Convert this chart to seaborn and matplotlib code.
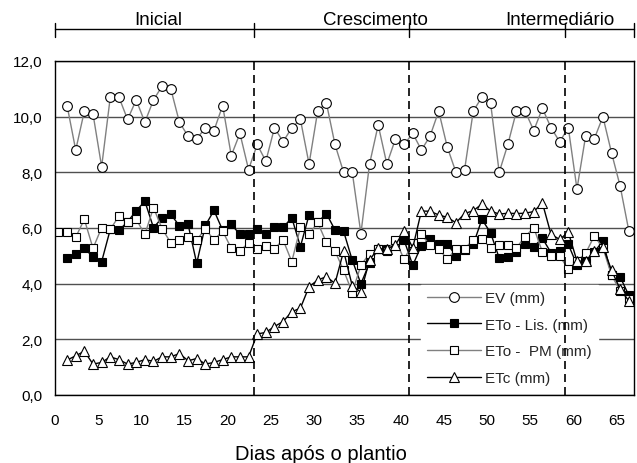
import numpy as np
import matplotlib
matplotlib.use('Agg')
import matplotlib.pyplot as plt
import seaborn as sns

# dias após o plantio (ETo - PM também tem a leitura do dia 0)
days = np.arange(1, 67)
days_pm = np.arange(0, 67)

ev = [10.4, 8.8, 10.2, 10.1, 8.2, 10.7, 10.7, 9.9, 10.6, 9.8,
      10.6, 11.1, 11.0, 9.8, 9.3, 9.2, 9.6, 9.5, 10.4, 8.6,
      9.4, 8.1, 9.0, 8.4, 9.6, 9.1, 9.6, 9.9, 8.3, 10.2,
      10.5, 9.0, 8.0, 8.0, 5.8, 8.3, 9.7, 8.3, 9.2, 9.0,
      9.4, 8.8, 9.3, 10.2, 8.9, 8.0, 8.1, 10.2, 10.7, 10.5,
      8.0, 9.0, 10.2, 10.2, 9.5, 10.3, 9.6, 9.1, 9.6, 7.4,
      9.3, 9.2, 10.0, 8.7, 7.5, 5.9]

eto_lis = [4.93, 5.08, 5.27, 4.96, 4.79, 5.95, 5.92, 6.22, 6.62, 6.96,
           6.01, 6.37, 6.49, 6.08, 6.13, 4.73, 6.09, 6.63, 5.92, 6.13,
           5.77, 5.77, 5.97, 5.77, 6.02, 6.02, 6.37, 5.33, 6.47, 6.20,
           6.52, 5.93, 5.88, 4.84, 4.00, 4.74, 5.25, 5.25, 5.40, 5.56,
           4.66, 5.37, 5.60, 5.42, 5.42, 5.00, 5.20, 5.41, 6.31, 5.83,
           4.92, 4.97, 5.12, 5.44, 5.33, 5.63, 5.11, 5.18, 5.41, 4.67,
           4.78, 5.14, 5.53, 4.31, 4.24, 3.58]

eto_pm = [5.87, 5.87, 5.67, 6.31, 5.27, 6.01, 5.95, 6.43, 6.22, 6.31,
          5.77, 6.73, 5.97, 5.47, 5.57, 5.67, 5.57, 5.97, 5.57, 5.89,
          5.27, 5.17, 5.47, 5.26, 5.36, 5.26, 5.57, 4.79, 6.02, 5.77,
          6.20, 5.48, 5.17, 4.48, 3.68, 4.66, 5.08, 5.23, 5.17, 5.57,
          4.87, 5.46, 5.77, 5.38, 5.26, 4.87, 5.26, 5.26, 5.57, 5.59,
          5.29, 5.38, 5.38, 5.29, 5.69, 6.01, 5.14, 4.99, 4.99, 4.52,
          4.81, 5.09, 5.71, 5.29, 4.30, 3.74, 3.44]

etc = [1.25, 1.41, 1.57, 1.11, 1.17, 1.37, 1.27, 1.11, 1.17, 1.27,
       1.21, 1.37, 1.37, 1.49, 1.23, 1.31, 1.11, 1.17, 1.27, 1.37,
       1.37, 1.37, 2.19, 2.25, 2.46, 2.64, 2.99, 3.12, 3.89, 4.13,
       4.25, 4.01, 5.17, 3.92, 3.70, 4.85, 5.27, 5.23, 5.40, 5.89,
       5.29, 6.61, 6.60, 6.47, 6.38, 6.19, 6.52, 6.62, 6.86, 6.61,
       6.50, 6.53, 6.52, 6.53, 6.59, 6.90, 5.77, 5.59, 5.85, 4.81,
       4.81, 5.17, 5.33, 4.48, 3.80, 3.38]

stage_bounds = [0, 23, 41, 59, 67]
stage_names = ['Inicial', 'Crescimento', 'Intermediário']
stage_label_x = [12, 37.1, 58.4]

xtick_vals = list(range(0, 70, 5))
ytick_vals = [0, 2, 4, 6, 8, 10, 12]
ytick_labels = ['0,0', '2,0', '4,0', '6,0', '8,0', '10,0', '12,0']

# os pontos ficam um pouco deslocados em relação às marcas do eixo no original
x_shift = 0.4

sns.set_theme(style='white')
plt.rcParams['font.family'] = ['Liberation Sans', 'DejaVu Sans']

fig = plt.figure(figsize=(6.37, 4.64), dpi=100)
ax = fig.add_subplot(111)
fig.subplots_adjust(left=0.0863, right=0.9953, bottom=0.1466, top=0.8664)

mk = dict(markeredgecolor='black', markeredgewidth=0.8)
sns.lineplot(x=days + x_shift, y=ev, ax=ax, color='#808080', lw=1,
             marker='o', markersize=7, markerfacecolor='white',
             label='EV (mm)', **mk)
sns.lineplot(x=days + x_shift, y=eto_lis, ax=ax, color='black', lw=1,
             marker='s', markersize=5.5, markerfacecolor='black',
             label='ETo - Lis. (mm)', **mk)
sns.lineplot(x=days_pm + x_shift, y=eto_pm, ax=ax, color='#808080', lw=1,
             marker='s', markersize=5.5, markerfacecolor='white',
             label='ETo -  PM (mm)', **mk)
sns.lineplot(x=days + x_shift, y=etc, ax=ax, color='black', lw=1,
             marker='^', markersize=7.5, markerfacecolor='white',
             label='ETc (mm)', **mk)

ax.set_xlim(0, 67)
ax.set_ylim(0, 12)
ax.set_xticks(xtick_vals)
ax.set_xticklabels([str(v) for v in xtick_vals])
ax.set_yticks(ytick_vals)
ax.set_yticklabels(ytick_labels)
ax.tick_params(axis='both', direction='out', length=5, width=1, color='black',
               labelsize=11, labelcolor='black', pad=4)
ax.tick_params(axis='x', pad=8)

ax.yaxis.grid(True, color='#505050', lw=1)
ax.set_axisbelow(True)
for s in ax.spines.values():
    s.set_color('black')
    s.set_linewidth(1)

ax.set_xlabel('Dias após o plantio', fontsize=14.5, color='black')
ax.xaxis.set_label_coords(0.46, -0.148)
ax.set_ylabel('')

leg = ax.legend(loc='lower left', bbox_to_anchor=(0.632, 0.012), borderaxespad=0,
                frameon=True, facecolor='white', edgecolor='white', framealpha=1,
                fancybox=False, fontsize=11, handlelength=3.5, handletextpad=0.3,
                labelspacing=0.82, borderpad=0.4)

# limites das fases
for b in stage_bounds[1:-1]:
    ax.axvline(b, color='black', lw=1.2, dashes=(4.8, 3), zorder=6)

trans = ax.get_xaxis_transform()
ax.plot([stage_bounds[0], stage_bounds[-1]], [1.096, 1.096], transform=trans,
        clip_on=False, color='black', lw=1)
for b in stage_bounds:
    ax.plot([b, b], [1.072, 1.114], transform=trans, clip_on=False,
            color='black', lw=1)
for name, xc in zip(stage_names, stage_label_x):
    ax.text(xc, 1.099, name, transform=trans, ha='center', va='bottom',
            fontsize=13.5, color='black')

plt.savefig('out.png', dpi=100)
